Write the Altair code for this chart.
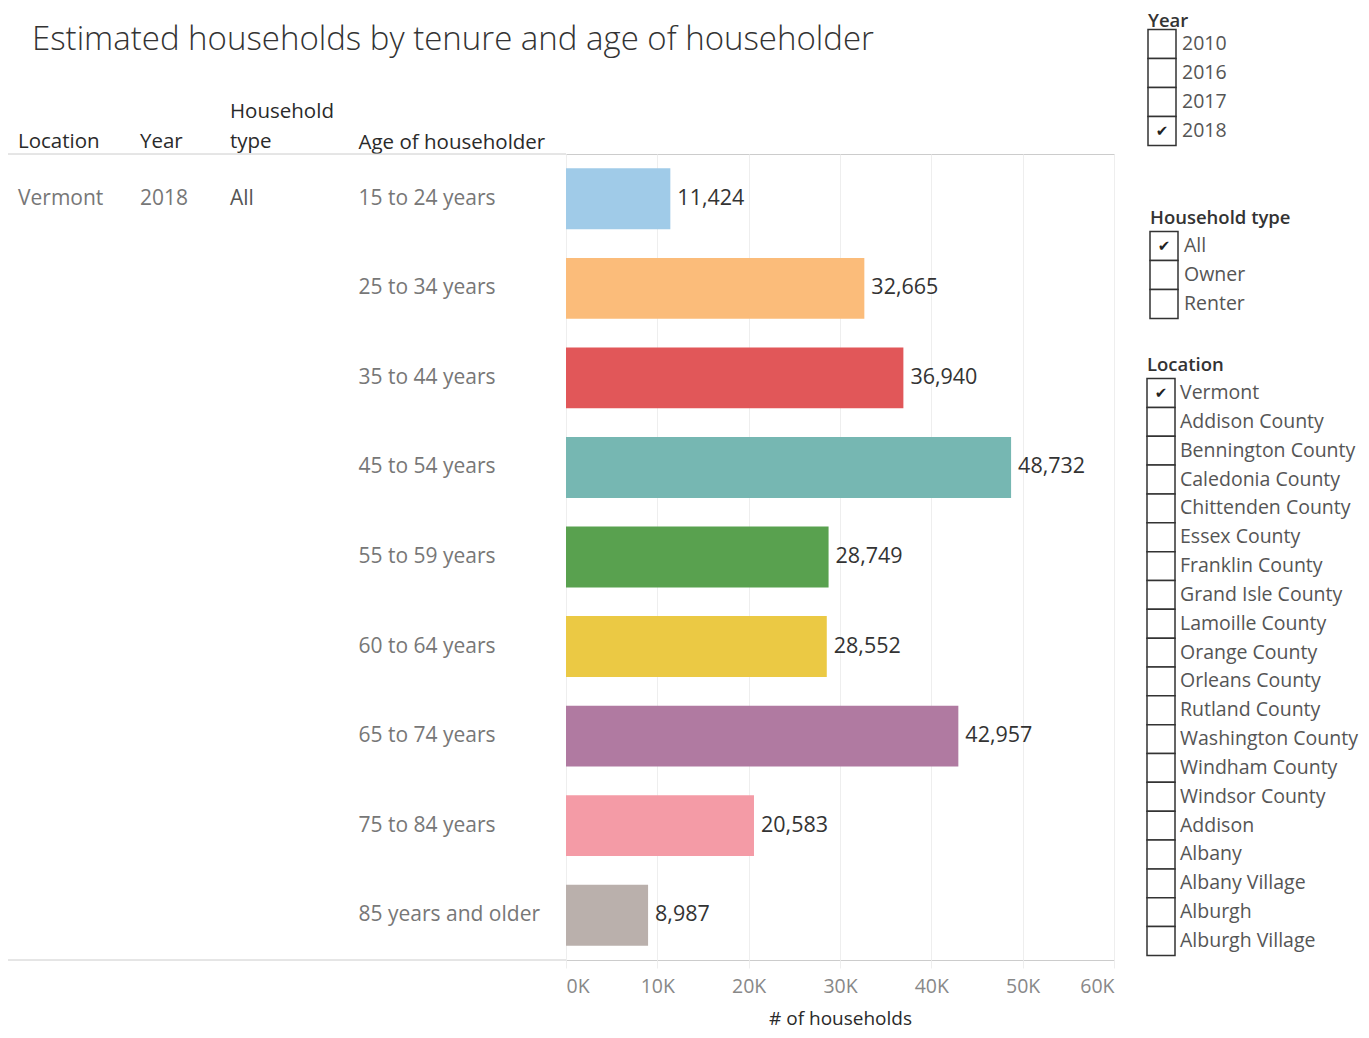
import altair as alt
import pandas as pd

# ---------------- data ----------------
ages = ["15 to 24 years", "25 to 34 years", "35 to 44 years", "45 to 54 years",
        "55 to 59 years", "60 to 64 years", "65 to 74 years", "75 to 84 years",
        "85 years and older"]
households = [11424, 32665, 36940, 48732, 28749, 28552, 42957, 20583, 8987]
bar_colors = ["#A0CBE8", "#FBBC7A", "#E15759", "#76B7B2", "#59A14F",
              "#EBC944", "#B07AA1", "#F49BA6", "#BAB0AC"]
x_ticks = [0, 10000, 20000, 30000, 40000, 50000, 60000]

sel_location = "Vermont"
sel_year = "2018"
sel_type = "All"

years = ["2010", "2016", "2017", "2018"]
types = ["All", "Owner", "Renter"]
locations = ["Vermont", "Addison County", "Bennington County", "Caledonia County",
             "Chittenden County", "Essex County", "Franklin County", "Grand Isle County",
             "Lamoille County", "Orange County", "Orleans County", "Rutland County",
             "Washington County", "Windham County", "Windsor County", "Addison",
             "Albany", "Albany Village", "Alburgh", "Alburgh Village"]

title_text = "Estimated households by tenure and age of householder"
x_title = "# of households"

FONT = "Open Sans"

df = pd.DataFrame({"age": ages, "households": households})
df["location"] = ""
df["year"] = ""
df["htype"] = ""
df.loc[0, "location"] = sel_location
df.loc[0, "year"] = sel_year
df.loc[0, "htype"] = sel_type


def age_y(axis=None):
    return alt.Y("age:N", sort=ages,
                 scale=alt.Scale(domain=ages, paddingInner=0.32, paddingOuter=0.16),
                 axis=axis)


y_axis = alt.Axis(
    labelAlign="left", labelPadding=208, ticks=False, domain=False, labelLimit=300,
    labelFontSize=21, labelColor="#777777", labelFont=FONT,
    title="Age of householder", titleAngle=0, titleAlign="left",
    titleBaseline="bottom", titleX=-208, titleY=-2,
    titleFontSize=20.5, titleColor="#2a2a2a", titleFont=FONT, titleFontWeight="normal",
)

x_axis = alt.Axis(
    values=x_ticks, grid=True, gridColor="#eeeeee", domain=False,
    tickColor="#eeeeee", tickSize=8, labelFlush=True,
    labelExpr="datum.value / 1000 + 'K'", labelFontSize=19.5, labelColor="#888888",
    labelFont=FONT, labelPadding=9,
    title=x_title, titleFontSize=19, titleColor="#2a2a2a", titleFont=FONT,
    titleFontWeight="normal", titlePadding=14,
)

base = alt.Chart(df)

bars = base.mark_bar().encode(
    y=age_y(y_axis),
    x=alt.X("households:Q", scale=alt.Scale(domain=[0, 60000], nice=False), axis=x_axis),
    color=alt.Color("age:N", scale=alt.Scale(domain=ages, range=bar_colors), legend=None),
)

values = base.mark_text(align="left", baseline="middle", dx=7, fontSize=21.5,
                        color="#333333", font=FONT).encode(
    y=age_y(),
    x=alt.X("households:Q", scale=alt.Scale(domain=[0, 60000], nice=False)),
    text=alt.Text("households:Q", format=","),
)

cell_loc = base.mark_text(align="left", baseline="middle", fontSize=21,
                          color="#777777", font=FONT).encode(
    y=age_y(), x=alt.value(-548), text="location:N")
cell_year = base.mark_text(align="left", baseline="middle", fontSize=21,
                           color="#777777", font=FONT).encode(
    y=age_y(), x=alt.value(-426), text="year:N")
cell_type = base.mark_text(align="left", baseline="middle", fontSize=21,
                           color="#555555", font=FONT).encode(
    y=age_y(), x=alt.value(-336), text="htype:N")

h_loc = alt.Chart(pd.DataFrame({"h": ["Location"]})).mark_text(
    align="left", baseline="bottom", fontSize=20.5, color="#2a2a2a", font=FONT).encode(
    x=alt.value(-548), y=alt.value(-2), text="h:N")
h_year = alt.Chart(pd.DataFrame({"h": ["Year"]})).mark_text(
    align="left", baseline="bottom", fontSize=20.5, color="#2a2a2a", font=FONT).encode(
    x=alt.value(-426), y=alt.value(-2), text="h:N")
h_type = alt.Chart(pd.DataFrame({"h": ["Household\ntype"]})).mark_text(
    align="left", baseline="bottom", fontSize=20.5, color="#2a2a2a", font=FONT,
    lineBreak="\n", lineHeight=30).encode(
    x=alt.value(-336), y=alt.value(-32), text="h:N")

title = alt.Chart(pd.DataFrame({"t": [title_text]})).mark_text(
    align="left", baseline="middle", fontSize=33, fontWeight=300,
    color="#333333", font=FONT).encode(
    x=alt.value(-534), y=alt.value(-114), text="t:N")

lines = alt.Chart(pd.DataFrame({"k": ["top", "bottom"]})).mark_rule(
    color="#cccccc", strokeWidth=1).encode(
    x=alt.value(-558), x2=alt.value(0),
    y=alt.Y("k:N", scale=alt.Scale(domain=["top", "bottom"], range=[0, 806],
                                   type="point", padding=0), axis=None))


def filter_list(items, selected, heading, top, step, box_left, label_left, head_gap):
    fdf = pd.DataFrame({"item": items,
                        "check": ["\u2714" if i == selected else "" for i in items]})
    ys = alt.Y("item:N", sort=items,
               scale=alt.Scale(type="band", domain=items,
                               range=[top, top + step * len(items)],
                               paddingInner=0, paddingOuter=0),
               axis=None)
    ch = alt.Chart(fdf)
    boxes = ch.mark_rect(fill="white", stroke="#333333", strokeWidth=1.5).encode(
        y=ys, x=alt.value(box_left), x2=alt.value(box_left + 28))
    labels = ch.mark_text(align="left", baseline="middle", fontSize=19.5,
                          color="#555555", font=FONT).encode(
        y=ys, x=alt.value(label_left), text="item:N")
    checks = ch.mark_text(align="center", baseline="middle", fontSize=15,
                          color="#222222", font="DejaVu Sans").encode(
        y=ys, x=alt.value(box_left + 14), text="check:N")
    head = alt.Chart(pd.DataFrame({"t": [heading]})).mark_text(
        align="left", baseline="middle", fontSize=18.5, fontWeight=600,
        color="#333333", font=FONT).encode(
        x=alt.value(box_left), y=alt.value(top - head_gap), text="t:N")
    return [boxes, labels, checks, head]


year_list = filter_list(years, sel_year, "Year", -124.5, 29, 582, 616, 8.5)
type_list = filter_list(types, sel_type, "Household type", 77.5, 29, 584, 618, 14)
loc_list = filter_list(locations, sel_location, "Location", 224.6, 28.84, 581, 614, 14)

chart = alt.layer(
    bars, values, cell_loc, cell_year, cell_type, h_loc, h_year, h_type, title, lines,
    *year_list, *type_list, *loc_list
).resolve_scale(y="independent").properties(
    width=548, height=806,
    autosize=alt.AutoSizeParams(type="none"),
    padding={"left": 558, "top": 146, "right": 246, "bottom": 70},
).configure_view(stroke="#cccccc", strokeWidth=1)

chart.save("out.html", embed_options={"renderer": "svg", "actions": False})
